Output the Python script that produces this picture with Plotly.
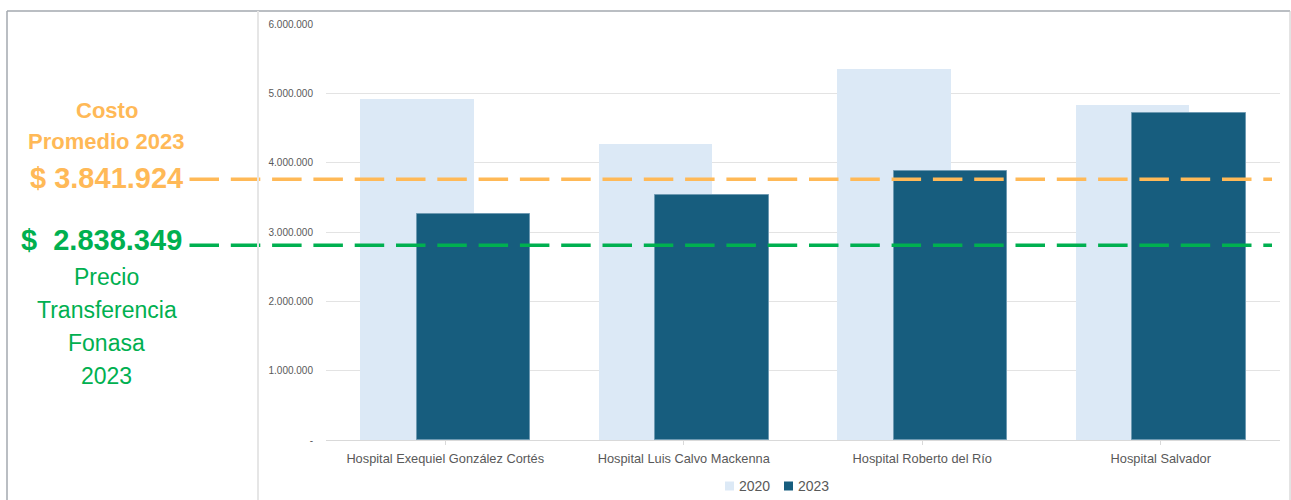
import plotly.graph_objects as go

# ---------------- data ----------------
hospitals = [
    "Hospital Exequiel González Cortés",
    "Hospital Luis Calvo Mackenna",
    "Hospital Roberto del Río",
    "Hospital Salvador",
]
series_names = ["2020", "2023"]
values_2020 = [4914000, 4270000, 5350000, 4835000]
values_2023 = [3255000, 3534000, 3880000, 4712000]

y_tick_values = [0, 1000000, 2000000, 3000000, 4000000, 5000000, 6000000]
y_tick_labels = ["-", "1.000.000", "2.000.000", "3.000.000", "4.000.000", "5.000.000", "6.000.000"]

# reference lines (position) and their labels
ref_positions = [3760000, 2808000]
ref_values_text = ["$ 3.841.924", "$  2.838.349"]
ref_title_cost = ["Costo", "Promedio 2023"]
ref_title_price = ["Precio", "Transferencia", "Fonasa", "2023"]

# ---------------- styling / layout ----------------
W, H = 1291, 500
L, R, T, B = 326, 11, 24, 60
PW, PH = W - L - R, H - T - B

def px2x(p):
    return (p - L) / PW

def py2y(p):
    return (H - B - p) / PH

C2020 = "#DCE9F6"
C2023 = "#175D7E"
ORANGE = "#FFB957"
GREEN = "#00B050"
FONT = "Liberation Sans, Arial, sans-serif"

fig = go.Figure()
fig.add_trace(go.Bar(
    x=hospitals, y=values_2020, name=series_names[0],
    marker=dict(color=C2020, line=dict(width=0)),
    width=0.476, offset=-0.357, showlegend=False,
))
fig.add_trace(go.Bar(
    x=hospitals, y=values_2023, name=series_names[1],
    marker=dict(color=C2023, line=dict(color="#6E9AB2", width=1)),
    width=0.476, offset=-0.119, showlegend=False,
))

shapes = []
# dashed reference lines
for pos, col in zip(ref_positions, [ORANGE, GREEN]):
    shapes.append(dict(
        type="line", xref="paper", yref="y",
        x0=px2x(189.5), x1=px2x(1272), y0=pos, y1=pos,
        line=dict(color=col, width=3.5, dash="29.5px,11.8px"),
        layer="above",
    ))
# frame lines
frame = "#A3A8AF"
shapes += [
    dict(type="line", xref="paper", yref="paper", x0=px2x(7), x1=px2x(1290),
         y0=py2y(11), y1=py2y(11), line=dict(color=frame, width=1.5)),
    dict(type="line", xref="paper", yref="paper", x0=px2x(7), x1=px2x(7),
         y0=py2y(11), y1=py2y(502), line=dict(color=frame, width=1.5)),
    dict(type="line", xref="paper", yref="paper", x0=px2x(1290), x1=px2x(1290),
         y0=py2y(11), y1=py2y(502), line=dict(color="#C8C8C8", width=1)),
    dict(type="line", xref="paper", yref="paper", x0=px2x(258), x1=px2x(258),
         y0=py2y(11), y1=py2y(502), line=dict(color="#E6E6E6", width=2)),
]

annotations = []
def add_text(txt, xc, yc, size, color, bold=False, xanchor="center"):
    annotations.append(dict(
        text=f"<b>{txt}</b>" if bold else txt,
        xref="paper", yref="paper", x=px2x(xc), y=py2y(yc),
        xanchor=xanchor, yanchor="middle", showarrow=False,
        font=dict(family=FONT, size=size, color=color),
    ))

add_text(ref_title_cost[0], 106.5, 110, 22, ORANGE, bold=True)
add_text(ref_title_cost[1], 106.5, 141, 22, ORANGE, bold=True)
add_text(ref_values_text[0], 185, 178, 29, ORANGE, bold=True, xanchor="right")
add_text(ref_values_text[1], 184, 240, 29, GREEN, bold=True, xanchor="right")
for txt, yc in zip(ref_title_price, [277, 310, 343, 376]):
    add_text(txt, 106.5, yc, 23, GREEN)

# legend (compact, Excel-like)
for name, col, sx in zip(series_names, [C2020, C2023], [725, 784]):
    shapes.append(dict(
        type="rect", xref="paper", yref="paper",
        x0=px2x(sx), x1=px2x(sx + 9), y0=py2y(481.5), y1=py2y(490.5),
        fillcolor=col, line=dict(width=0),
    ))
    annotations.append(dict(
        text=name, xref="paper", yref="paper", x=px2x(sx + 12), y=py2y(486),
        xanchor="left", yanchor="middle", showarrow=False,
        font=dict(family=FONT, size=14, color="#595959"),
    ))

fig.update_layout(
    width=W, height=H,
    margin=dict(l=L, r=R, t=T, b=B),
    paper_bgcolor="white", plot_bgcolor="white",
    barmode="overlay",
    bargap=0,
    font=dict(family=FONT, color="#595959"),
    shapes=shapes,
    annotations=annotations,
    showlegend=False,
    hovermode=False,
)
fig.update_xaxes(
    type="category",
    showgrid=False,
    showline=True, linecolor="#D9D9D9", linewidth=1,
    ticks="outside", ticklen=4, tickcolor="#D9D9D9",
    tickfont=dict(family=FONT, size=12.8, color="#595959"),
    ticklabelstandoff=3,
)
fig.update_yaxes(
    range=[0, 6000000],
    tickvals=y_tick_values, ticktext=y_tick_labels,
    showgrid=True, gridcolor="#E3E3E3", gridwidth=1,
    zeroline=False, showline=False, ticks="",
    tickfont=dict(family=FONT, size=10, color="#595959"),
    ticklabelstandoff=12,
)

fig.write_html("out.html")
